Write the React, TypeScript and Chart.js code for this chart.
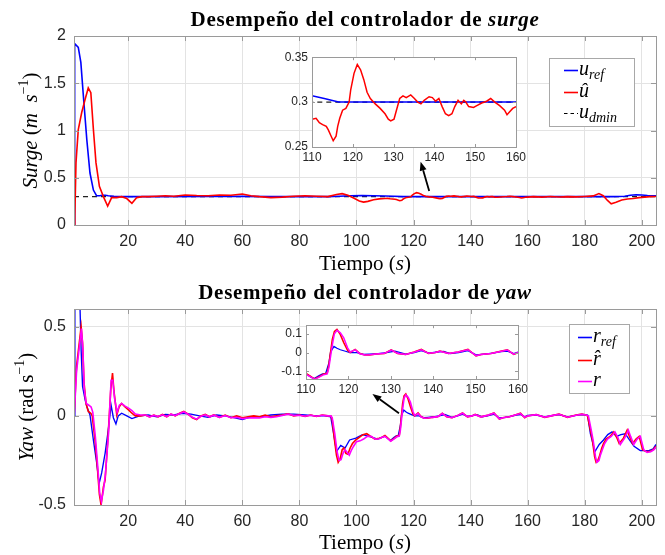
import React, { useEffect, useRef } from "react";
import { Chart, registerables } from "chart.js";
Chart.register(...registerables);

type Pt = [number, number];

// ---------- tick values ----------
const X_TICKS = [20, 40, 60, 80, 100, 120, 140, 160, 180, 200];
const INSET_X_TICKS = [110, 120, 130, 140, 150, 160];
const SURGE_Y_TICKS = [0, 0.5, 1, 1.5, 2];
const SURGE_INSET_Y_TICKS = [0.25, 0.3, 0.35];
const YAW_Y_TICKS = [-0.5, 0, 0.5];
const YAW_INSET_Y_TICKS = [-0.1, 0, 0.1];

// ---------- surge data ----------
const U_REF: Pt[] = [
  [1, 0], [1.15, 1.5], [1.3, 1.92], [2.5, 1.88], [3.4, 1.72], [4.3, 1.36], [5.5, 0.9], [6.6, 0.55],
  [7.8, 0.37], [8.9, 0.31], [10, 0.31], [11, 0.315], [12, 0.315], [13, 0.31], [15, 0.305], [18, 0.3],
  [30, 0.3], [50, 0.302], [60, 0.303], [70, 0.3], [90, 0.3],
  [94, 0.305], [98, 0.31], [102, 0.312], [106, 0.31], [110, 0.307], [113, 0.304], [116.5, 0.3],
  [130, 0.3], [160, 0.3], [190, 0.3], [194, 0.305], [196, 0.315], [198, 0.32], [200, 0.318],
  [202, 0.312], [205, 0.31],
];
const U_HAT: Pt[] = [
  [1, 0], [1.3, 0.1], [1.7, 0.66], [2.5, 1.01], [3.7, 1.19], [4.9, 1.33], [6, 1.45], [6.9, 1.4],
  [7.8, 1.01], [8.7, 0.66], [9.9, 0.41], [11.3, 0.3], [12.8, 0.2], [14.2, 0.29], [16, 0.29],
  [17.7, 0.3], [19.5, 0.28], [21.3, 0.23], [23, 0.29], [24.8, 0.3], [27, 0.3], [30, 0.305], [33, 0.31],
  [36, 0.305], [40, 0.318], [44, 0.312],
  [48, 0.31], [52, 0.318], [56, 0.315], [60, 0.328], [63, 0.31], [66, 0.3], [70, 0.29], [74, 0.295],
  [78, 0.305], [82, 0.31], [86, 0.305], [90, 0.3], [93, 0.322], [95, 0.332], [97, 0.315], [99, 0.285],
  [101, 0.255], [102.5, 0.242], [104, 0.25], [106, 0.268], [108, 0.276],
  [110, 0.281], [111, 0.282], [111.8, 0.277], [112.6, 0.275], [113.5, 0.273], [114, 0.269],
  [114.7, 0.262], [115.2, 0.257], [115.9, 0.262], [116.3, 0.273], [116.8, 0.282], [117.5, 0.291],
  [118.3, 0.293], [119.1, 0.3], [119.5, 0.314], [120.3, 0.332], [121.1, 0.342], [121.9, 0.336],
  [122.7, 0.325], [123.5, 0.311], [124.3, 0.304], [125.5, 0.298], [126.7, 0.293], [127.9, 0.287],
  [128.7, 0.281], [129.3, 0.279], [130.1, 0.281], [130.7, 0.291], [131.5, 0.304], [132.3, 0.307],
  [133.1, 0.305], [134.2, 0.308], [135.1, 0.304], [135.9, 0.3], [136.7, 0.298], [137.5, 0.302],
  [138.7, 0.306], [139.5, 0.305], [140.3, 0.301], [141.1, 0.304], [141.9, 0.295], [142.7, 0.287],
  [143.5, 0.285], [144.3, 0.287], [145, 0.295], [145.8, 0.302], [146.6, 0.298], [147.2, 0.302],
  [147.7, 0.3], [148.4, 0.295], [149.6, 0.294], [150.4, 0.296], [151.6, 0.299], [152.8, 0.301],
  [153.8, 0.304], [154.8, 0.3], [156, 0.296], [157.2, 0.291], [157.8, 0.286], [158.4, 0.289],
  [159.2, 0.293], [160, 0.295],
  [162, 0.3], [165, 0.295], [168, 0.302], [171, 0.297], [174, 0.3], [177, 0.298], [180, 0.302],
  [183, 0.308], [185, 0.333], [186.5, 0.31], [188, 0.26], [189.3, 0.225], [191, 0.24], [193, 0.265],
  [195, 0.275], [197, 0.28], [199, 0.29], [201, 0.295], [203, 0.3], [205, 0.302],
];
const U_DMIN: Pt[] = [[1, 0.3], [205, 0.3]];

// ---------- yaw data ----------
const R_REF: Pt[] = [
  [1, 0], [1.3, 0.8], [2.8, 0.8], [3.5, 0.37], [4, 0.166], [4.9, 0.09], [5.5, 0.053], [6.6, 0.005],
  [7.8, -0.136], [9, -0.27], [9.8, -0.38], [10.7, -0.32], [11.9, -0.21], [13, -0.08], [14, 0.06],
  [14.8, -0.01], [15.7, -0.045], [16.5, 0], [17.7, 0.015], [19.5, 0], [21.3, -0.015],
  [24, 0], [27, 0.005], [30, -0.005], [33, 0.008], [36, 0.005], [39, 0.015], [42, 0.01],
  [45, 0], [48, -0.008], [51, 0.005], [54, 0], [57, -0.01], [60, -0.02], [63, -0.005], [66, -0.005],
  [70, 0.005], [74, 0.01], [78, 0.01], [82, 0.005], [86, 0], [89, 0], [91, -0.005], [92, -0.1],
  [93, -0.2], [94.5, -0.165], [96, -0.18], [97.6, -0.135], [99.8, -0.125], [102.1, -0.105],
  [104.4, -0.115], [107.5, -0.13],
  [110, -0.113], [111.2, -0.13], [111.9, -0.138], [113.1, -0.122], [113.9, -0.113], [114.6, -0.113],
  [115.4, -0.055], [115.8, 0.003], [116.6, 0.033], [117.3, 0.023], [118.1, 0.015], [119.3, 0.007],
  [120.4, 0], [122, 0], [123.5, -0.01], [125, -0.008], [127, -0.005], [129, 0], [131, 0.008],
  [133.5, -0.008], [135.5, 0], [137.2, 0.01], [139, -0.003], [141, 0.003], [142.5, 0.006],
  [144, -0.005], [146, 0], [148.2, 0.01], [150.1, -0.012], [152, -0.008], [154, -0.003], [156, 0.005],
  [157.5, 0.008], [159, -0.005], [160, 0.003],
  [163, 0.005], [166, -0.005], [169, 0.003], [171, 0.008], [174, -0.005], [177, 0.003], [179, 0.008],
  [181, 0.005], [182, -0.1], [183.6, -0.2], [185.1, -0.16], [186.6, -0.135], [188.1, -0.105],
  [189.6, -0.09], [191.2, -0.115], [192.7, -0.105], [194.2, -0.1], [195.7, -0.135], [197.3, -0.17],
  [199.5, -0.195], [202.5, -0.195], [204, -0.185], [205, -0.16],
];
const R_HAT: Pt[] = [
  [1, -0.01], [1.9, 0.28], [3.5, 0.5], [4, 0.41], [4.5, 0.19], [5.2, 0.07], [6, 0.025], [6.9, 0.015],
  [7.4, 0], [8.4, -0.14], [9.2, -0.29], [9.9, -0.44], [10.5, -0.5], [11.3, -0.4], [11.9, -0.36],
  [13, -0.1], [13.9, 0.15], [14.5, 0.24], [15, 0.14], [16, 0.005], [16.8, 0.05], [17.7, 0.07],
  [18.9, 0.05], [20, 0.035], [21.3, 0.015], [22.5, 0],
  [24.4, 0], [26, 0.005], [27.5, -0.005], [29, 0.005], [30.5, -0.005], [32, 0.008], [33.5, -0.005],
  [35, 0.01], [36.5, 0], [38, 0.015], [39.5, 0.025], [41, 0.01], [42.5, -0.01], [44, -0.02], [45.5, 0],
  [47, 0.008], [48.5, -0.005], [50, 0.006], [52, -0.008], [54, 0.005], [56, -0.01], [58, 0],
  [60, -0.01], [62, -0.005], [64, 0], [66, -0.005], [68, 0.005], [70, -0.005], [72, 0], [74, 0.005],
  [76, 0.012], [78, 0], [80, 0.005], [82, -0.003], [84, 0.005], [86, -0.003], [88, 0.005], [90, 0],
  [91, 0], [91.5, -0.02], [92.2, -0.12], [93, -0.22], [93.6, -0.26], [94.3, -0.24], [95, -0.19],
  [95.6, -0.18], [96.3, -0.21], [97, -0.215], [97.8, -0.18], [98.6, -0.155], [99.8, -0.135],
  [101, -0.12], [102.3, -0.105], [103.6, -0.1], [105, -0.115], [106.5, -0.13], [108, -0.125],
  [109, -0.12],
  [110, -0.11], [111.2, -0.127], [112, -0.14], [113.1, -0.127], [114.2, -0.113], [115, -0.11],
  [115.4, -0.063], [116.2, 0.07], [116.7, 0.112], [117.3, 0.123], [118.1, 0.095], [118.9, 0.053],
  [119.8, 0.012], [120.4, 0], [121.6, 0.017], [122.7, -0.005], [123.9, -0.013], [125, -0.013],
  [126.6, -0.008], [128.5, -0.005], [130.1, 0.015], [131.6, -0.005], [133.5, -0.01], [135.5, 0.003],
  [137.2, 0.017], [138.9, -0.005], [140.5, 0], [141.6, 0.008], [143.6, -0.005], [145.9, 0.003],
  [148.2, 0.017], [150.1, -0.018], [151.3, -0.01], [153.6, -0.005], [155.9, 0.007], [157.5, 0.015],
  [159, -0.01], [160, 0],
  [163, 0.008], [166, -0.008], [169, 0.003], [171, 0.01], [174, -0.008], [177, 0.005], [179, 0.01],
  [180.5, 0.005], [181, 0], [182, -0.08], [182.7, -0.135], [183.5, -0.23], [184, -0.26],
  [184.6, -0.25], [185.1, -0.23], [186, -0.18], [186.6, -0.155], [187.5, -0.13], [188.9, -0.115],
  [190.2, -0.09], [191.2, -0.12], [192.1, -0.155], [193.6, -0.125], [194.9, -0.08], [195.7, -0.115],
  [196.8, -0.155], [198, -0.13], [199.1, -0.115], [200.3, -0.19], [201.5, -0.2], [203, -0.2],
  [204, -0.19], [205, -0.17],
];
const R_MEAS: Pt[] = [
  [1, -0.02], [1.9, 0.25], [3.6, 0.49], [4.1, 0.38], [4.6, 0.15], [5.3, 0.07], [6.2, 0.06], [7, 0.05],
  [7.6, 0.02], [8.5, -0.12], [9.3, -0.28], [10, -0.43], [10.6, -0.48], [11.3, -0.42], [12, -0.33],
  [13.1, -0.1], [14, 0.2], [14.6, 0.2], [15.2, 0.1], [16.1, 0.02], [16.9, 0.06], [17.7, 0.07],
  [18.9, 0.055], [20, 0.045], [21.3, 0.03], [22.5, 0.01],
  [24.4, 0.005], [26, 0.005], [27.5, -0.005], [29, 0.003], [30.5, -0.003], [32, 0.006], [33.5, -0.004],
  [35, 0.01], [36.5, 0.002], [38, 0.013], [39.5, 0.022], [41, 0.01], [42.5, -0.008], [44, -0.018],
  [45.5, -0.002], [47, 0.006], [48.5, -0.005], [50, 0.004], [52, -0.008], [54, 0.002], [56, -0.01],
  [58, -0.008], [60, -0.015], [62, -0.012], [64, -0.01], [66, -0.012], [68, -0.005], [70, -0.008],
  [72, -0.005], [74, 0.002], [76, 0.01], [78, 0.002], [80, 0.004], [82, -0.002], [84, 0.004],
  [86, -0.002], [88, 0.004], [90, 0], [91, 0], [91.5, -0.01], [92.4, -0.1], [93.2, -0.2],
  [93.9, -0.25], [94.6, -0.245], [95.3, -0.21], [96, -0.19], [96.8, -0.205], [97.5, -0.22],
  [98.3, -0.19], [99, -0.17], [100, -0.145], [101.3, -0.14], [102.5, -0.13], [103.8, -0.115],
  [105.2, -0.115], [106.6, -0.13], [108, -0.128], [109, -0.12],
  [110, -0.115], [111.2, -0.13], [112, -0.142], [113.1, -0.13], [114.2, -0.117], [115, -0.113],
  [115.4, -0.08], [116.2, 0.04], [116.7, 0.1], [117.3, 0.118], [118.1, 0.105], [118.9, 0.078],
  [119.8, 0.025], [120.4, 0.003], [121.6, 0.014], [122.7, -0.006], [123.9, -0.013], [125, -0.012],
  [126.6, -0.008], [128.5, -0.004], [130.1, 0.013], [131.6, -0.004], [133.5, -0.01], [135.5, 0.002],
  [137.2, 0.015], [138.9, -0.004], [140.5, 0], [141.6, 0.007], [143.6, -0.005], [145.9, 0.003],
  [148.2, 0.015], [150.1, -0.016], [151.3, -0.01], [153.6, -0.005], [155.9, 0.006], [157.5, 0.013],
  [159, -0.008], [160, 0],
  [163, 0.007], [166, -0.007], [169, 0.003], [171, 0.009], [174, -0.007], [177, 0.004], [179, 0.009],
  [180.5, 0.005], [181.3, 0], [182.3, -0.08], [183, -0.14], [183.8, -0.23], [184.3, -0.26],
  [185, -0.25], [185.5, -0.22], [186.4, -0.18], [187, -0.155], [188, -0.13], [189.3, -0.115],
  [190.6, -0.09], [191.6, -0.12], [192.5, -0.16], [194, -0.125], [195.3, -0.08], [196.1, -0.115],
  [197.2, -0.16], [198.4, -0.13], [199.5, -0.115], [200.7, -0.19], [201.9, -0.205], [203.3, -0.2],
  [204.3, -0.19], [205, -0.175],
];

// arrows (tail, head) in data coordinates of the main axes
const SURGE_ARROW: Pt[] = [[125.5, 0.36], [122.5, 0.67]];
const YAW_ARROW: Pt[] = [[114.9, 0.015], [105.6, 0.123]];

// ---------- styling ----------
const SERIF = '"Liberation Serif", "DejaVu Serif", serif';
const SANS = '"Liberation Sans", Arial, sans-serif';
const BLUE = "#0000ff";
const RED = "#ff0000";
const MAGENTA = "#ff00ff";
const FRAME = "#9a9a9a";
const GRID = "#e3e3e3";
const TICKTXT = "#262626";

type Seg = { t: string; f: string; dy?: number; ls?: number };

function drawRich(ctx: CanvasRenderingContext2D, segs: Seg[], x: number, y: number, align = "center") {
  ctx.save();
  const c: any = ctx;
  let w = 0;
  for (const s of segs) {
    ctx.font = s.f;
    c.letterSpacing = `${s.ls || 0}px`;
    w += ctx.measureText(s.t).width;
  }
  let cx = align === "center" ? x - w / 2 : align === "left" ? x : x - w;
  ctx.textAlign = "left";
  ctx.textBaseline = "alphabetic";
  for (const s of segs) {
    ctx.font = s.f;
    c.letterSpacing = `${s.ls || 0}px`;
    ctx.fillText(s.t, cx, y + (s.dy || 0));
    cx += ctx.measureText(s.t).width;
  }
  c.letterSpacing = "0px";
  ctx.restore();
}

const toXY = (a: Pt[]) => a.map(([x, y]) => ({ x, y }));

function lineDs(data: Pt[], color: string, order: number, width: number, dash: number[] = []) {
  return {
    data: toXY(data),
    borderColor: color,
    backgroundColor: color,
    borderWidth: width,
    borderDash: dash,
    pointRadius: 0,
    tension: 0,
    fill: false,
    order,
  };
}

function framePlugin(tickLen: number, whiteBg: boolean) {
  return {
    id: "frame",
    beforeDraw(chart: any) {
      if (!whiteBg) return;
      const { ctx, chartArea: a } = chart;
      ctx.save();
      ctx.fillStyle = "#fff";
      ctx.fillRect(a.left, a.top, a.right - a.left, a.bottom - a.top);
      ctx.restore();
    },
    afterDraw(chart: any) {
      const { ctx, chartArea: a } = chart;
      ctx.save();
      ctx.strokeStyle = FRAME;
      ctx.lineWidth = 1;
      ctx.beginPath();
      for (const t of chart.scales.x.ticks) {
        const px = Math.round(chart.scales.x.getPixelForValue(t.value)) + 0.5;
        ctx.moveTo(px, a.bottom);
        ctx.lineTo(px, a.bottom - tickLen);
        ctx.moveTo(px, a.top);
        ctx.lineTo(px, a.top + tickLen);
      }
      for (const t of chart.scales.y.ticks) {
        const py = Math.round(chart.scales.y.getPixelForValue(t.value)) + 0.5;
        ctx.moveTo(a.left, py);
        ctx.lineTo(a.left + tickLen, py);
        ctx.moveTo(a.right, py);
        ctx.lineTo(a.right - tickLen, py);
      }
      ctx.stroke();
      ctx.strokeRect(Math.round(a.left) + 0.5, Math.round(a.top) + 0.5, Math.round(a.right - a.left), Math.round(a.bottom - a.top));
      ctx.restore();
    },
  };
}

type AxisCfg = {
  xMin: number; xMax: number; xTicks: number[];
  yMin: number; yMax: number; yTicks: number[];
  padTop: number; padRight: number; yWidth: number; xHeight: number;
  font: number; grid: boolean; xPad: number; yPad: number;
};

function makeOptions(c: AxisCfg) {
  const tickFont = { family: SANS, size: c.font };
  return {
    animation: false,
    responsive: false,
    maintainAspectRatio: false,
    events: [],
    layout: { padding: { left: 0, right: c.padRight, top: c.padTop, bottom: 0 } },
    plugins: { legend: { display: false }, tooltip: { enabled: false }, title: { display: false } },
    scales: {
      x: {
        type: "linear",
        min: c.xMin,
        max: c.xMax,
        afterBuildTicks: (s: any) => { s.ticks = c.xTicks.map((v) => ({ value: v })); },
        afterFit: (s: any) => { s.height = c.xHeight; },
        grid: { display: c.grid, color: GRID, drawTicks: false, lineWidth: 1 },
        border: { display: false },
        ticks: { font: tickFont, color: TICKTXT, padding: c.xPad, maxRotation: 0, autoSkip: false, callback: (v: number) => String(v) },
      },
      y: {
        type: "linear",
        min: c.yMin,
        max: c.yMax,
        afterBuildTicks: (s: any) => { s.ticks = c.yTicks.map((v) => ({ value: v })); },
        afterFit: (s: any) => { s.width = c.yWidth; },
        grid: { display: c.grid, color: GRID, drawTicks: false, lineWidth: 1 },
        border: { display: false },
        ticks: { font: tickFont, color: TICKTXT, padding: c.yPad, autoSkip: false, callback: (v: number) => String(v) },
      },
    },
  };
}

type LegendItem = { color: string; dash?: number[]; segs: Seg[] };

function drawLegend(ctx: CanvasRenderingContext2D, box: number[], lineX: number[], rows: number[], items: LegendItem[]) {
  const [x0, y0, x1, y1] = box;
  ctx.save();
  ctx.fillStyle = "#fff";
  ctx.fillRect(x0, y0, x1 - x0, y1 - y0);
  ctx.strokeStyle = "#a8a8a8";
  ctx.lineWidth = 1;
  ctx.strokeRect(x0 + 0.5, y0 + 0.5, x1 - x0, y1 - y0);
  items.forEach((it, i) => {
    const y = rows[i];
    ctx.strokeStyle = it.color;
    ctx.lineWidth = it.dash ? 1.2 : 1.6;
    ctx.setLineDash(it.dash || []);
    ctx.beginPath();
    ctx.moveTo(lineX[0], y + 0.5);
    ctx.lineTo(lineX[1], y + 0.5);
    ctx.stroke();
    ctx.setLineDash([]);
    ctx.fillStyle = "#000";
    drawRich(ctx, it.segs, lineX[1] + 1, y + 5, "left");
  });
  ctx.restore();
}

function drawArrow(chart: any, arrow: Pt[]) {
  const { ctx, scales } = chart;
  const tx = scales.x.getPixelForValue(arrow[0][0]);
  const ty = scales.y.getPixelForValue(arrow[0][1]);
  const hx = scales.x.getPixelForValue(arrow[1][0]);
  const hy = scales.y.getPixelForValue(arrow[1][1]);
  const ang = Math.atan2(hy - ty, hx - tx);
  const L = 9, W = 3.5;
  const bx = hx - L * Math.cos(ang), by = hy - L * Math.sin(ang);
  ctx.save();
  ctx.strokeStyle = "#000";
  ctx.fillStyle = "#000";
  ctx.lineWidth = 1.8;
  ctx.beginPath();
  ctx.moveTo(tx, ty);
  ctx.lineTo(bx, by);
  ctx.stroke();
  ctx.beginPath();
  ctx.moveTo(hx, hy);
  ctx.lineTo(bx + W * Math.sin(ang), by - W * Math.cos(ang));
  ctx.lineTo(bx - W * Math.sin(ang), by + W * Math.cos(ang));
  ctx.closePath();
  ctx.fill();
  ctx.restore();
}

const mathI = (s: number) => `italic ${s}px ${SERIF}`;
const roman = (s: number) => `${s}px ${SERIF}`;

function decorPlugin(kind: "surge" | "yaw") {
  return {
    id: "decor",
    afterDraw(chart: any) {
      const { ctx, chartArea: a } = chart;
      const cx = (a.left + a.right) / 2;
      ctx.save();
      ctx.fillStyle = "#000";
      const titleY = kind === "surge" ? 26 : 21;
      drawRich(ctx, [
        { t: "Desempeño del controlador de ", f: `bold 21px ${SERIF}`, ls: 0.7 },
        { t: kind === "surge" ? "surge" : "yaw", f: `italic bold 21px ${SERIF}`, ls: 0.7 },
      ], cx, titleY);
      const xlY = kind === "surge" ? 270 : 271;
      drawRich(ctx, [
        { t: "Tiempo (", f: roman(21) },
        { t: "s", f: mathI(21) },
        { t: ")", f: roman(21) },
      ], cx, xlY);
      ctx.save();
      ctx.translate(kind === "surge" ? 37 : 33, (a.top + a.bottom) / 2);
      ctx.rotate(-Math.PI / 2);
      if (kind === "surge") {
        drawRich(ctx, [
          { t: "Surge", f: mathI(21) },
          { t: " (", f: roman(21) },
          { t: "m  s", f: mathI(21) },
          { t: "−1", f: roman(14), dy: -9 },
          { t: ")", f: roman(21) },
        ], 0, 0);
      } else {
        drawRich(ctx, [
          { t: "Yaw", f: mathI(21) },
          { t: " (rad s", f: roman(21) },
          { t: "−1", f: roman(14), dy: -9 },
          { t: ")", f: roman(21) },
        ], 0, 0);
      }
      ctx.restore();
      if (kind === "surge") {
        drawLegend(ctx, [549, 58, 634, 126], [564, 578], [70, 92, 113], [
          { color: BLUE, segs: [{ t: "u", f: mathI(20) }, { t: "ref", f: mathI(14), dy: 4 }] },
          { color: RED, segs: [{ t: "û", f: mathI(20) }] },
          { color: "#000", dash: [3.5, 3], segs: [{ t: "u", f: mathI(20) }, { t: "dmin", f: mathI(14), dy: 4 }] },
        ]);
        drawArrow(chart, SURGE_ARROW);
      } else {
        drawLegend(ctx, [569, 46, 629, 115], [578, 592], [59, 82, 103], [
          { color: BLUE, segs: [{ t: "r", f: mathI(20) }, { t: "ref", f: mathI(14), dy: 4 }] },
          { color: RED, segs: [{ t: "r\u0302", f: mathI(20) }] },
          { color: MAGENTA, segs: [{ t: "r", f: mathI(20) }] },
        ]);
        drawArrow(chart, YAW_ARROW);
      }
      ctx.restore();
    },
  };
}

function surgeDatasets(w: number) {
  return [
    lineDs(U_HAT, RED, 0, w),
    lineDs(U_REF, BLUE, 1, w),
    lineDs(U_DMIN, "#222", 2, 1.1, [5, 4]),
  ];
}
function yawDatasets(w: number) {
  return [
    lineDs(R_MEAS, MAGENTA, 0, w),
    lineDs(R_HAT, RED, 1, w),
    lineDs(R_REF, BLUE, 2, w * 0.85),
  ];
}

export default function App() {
  const topRef = useRef<HTMLCanvasElement>(null);
  const topInsetRef = useRef<HTMLCanvasElement>(null);
  const botRef = useRef<HTMLCanvasElement>(null);
  const botInsetRef = useRef<HTMLCanvasElement>(null);

  useEffect(() => {
    const charts: Chart[] = [];
    charts.push(new Chart(topRef.current as HTMLCanvasElement, {
      type: "line",
      data: { datasets: surgeDatasets(1.6) as any },
      options: makeOptions({
        xMin: 1, xMax: 205, xTicks: X_TICKS, yMin: 0, yMax: 2, yTicks: SURGE_Y_TICKS,
        padTop: 36, padRight: 9, yWidth: 74, xHeight: 53, font: 16, grid: true, xPad: 7, yPad: 8,
      }) as any,
      plugins: [framePlugin(5, false), decorPlugin("surge")],
    }));
    charts.push(new Chart(botRef.current as HTMLCanvasElement, {
      type: "line",
      data: { datasets: yawDatasets(1.6) as any },
      options: makeOptions({
        xMin: 1, xMax: 205, xTicks: X_TICKS, yMin: -0.5, yMax: 0.6, yTicks: YAW_Y_TICKS,
        padTop: 31, padRight: 9, yWidth: 74, xHeight: 50, font: 16, grid: true, xPad: 7, yPad: 8,
      }) as any,
      plugins: [framePlugin(5, false), decorPlugin("yaw")],
    }));
    charts.push(new Chart(topInsetRef.current as HTMLCanvasElement, {
      type: "line",
      data: { datasets: surgeDatasets(1.5) as any },
      options: makeOptions({
        xMin: 110, xMax: 160, xTicks: INSET_X_TICKS, yMin: 0.25, yMax: 0.35, yTicks: SURGE_INSET_Y_TICKS,
        padTop: 8, padRight: 8, yWidth: 36, xHeight: 20, font: 12, grid: false, xPad: 3, yPad: 4,
      }) as any,
      plugins: [framePlugin(3, true)],
    }));
    charts.push(new Chart(botInsetRef.current as HTMLCanvasElement, {
      type: "line",
      data: { datasets: yawDatasets(1.5) as any },
      options: makeOptions({
        xMin: 110, xMax: 160, xTicks: INSET_X_TICKS, yMin: -0.14, yMax: 0.145, yTicks: YAW_INSET_Y_TICKS,
        padTop: 8, padRight: 8, yWidth: 36, xHeight: 20, font: 12, grid: false, xPad: 3, yPad: 4,
      }) as any,
      plugins: [framePlugin(3, true)],
    }));
    return () => charts.forEach((c) => c.destroy());
  }, []);

  const abs = (l: number, t: number): React.CSSProperties => ({ position: "absolute", left: l, top: t });
  return (
    <div style={{ position: "absolute", left: 0, top: 0, width: 665, height: 555, background: "#fff", overflow: "hidden" }}>
      <canvas ref={topRef} width={665} height={278} style={abs(0, 0)} />
      <canvas ref={botRef} width={665} height={277} style={abs(0, 278)} />
      <canvas ref={topInsetRef} width={253} height={121} style={abs(276, 46)} />
      <canvas ref={botInsetRef} width={261} height={85} style={abs(270, 314)} />
    </div>
  );
}
